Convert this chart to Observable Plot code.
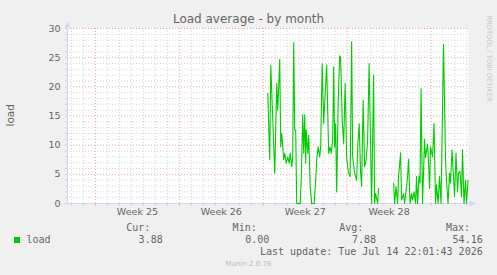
<!DOCTYPE html>
<html>
<head>
<meta charset="utf-8">
<script src="https://cdn.jsdelivr.net/npm/d3@7"></script>
<script src="https://cdn.jsdelivr.net/npm/@observablehq/plot@0.6"></script>
<style>
  html, body { margin: 0; padding: 0; background: #f0f0f0; }
  #wrap { position: relative; width: 497px; height: 275px; overflow: hidden; background: #f0f0f0; }
  #wrap svg { position: absolute; left: 0; top: 0; }
  .t { position: absolute; white-space: pre; color: #666; }
  .mono { font-family: "DejaVu Sans Mono", monospace; font-size: 10px; line-height: 10px; }
</style>
</head>
<body>
<div id="wrap"></div>
<script>
// ---- data (hours since Mon 15 Jun 2026 00:00) ----
const hours = [345, 349, 351, 359, 363, 365, 369, 371, 373, 377, 379, 382, 385, 388, 390, 393, 395, 397, 399, 401,
  403, 410, 412, 415, 417, 419, 421, 422, 425, 427, 430, 433, 438, 441, 443, 446, 449, 451, 454, 457,
  459, 463, 467, 470, 472, 475, 477, 479, 481, 483, 486, 489, 491, 494, 497, 500, 503, 505, 507, 510,
  513, 515, 519, 523, 525, 528, 531, 533, 536, 539, 542, 545, 548, 553, 557, 559, 561, 565, 567, 580,
  597, 599, 602, 605, 607, 611, 613, 617, 619, 623, 625, 627, 630, 633, 635, 638, 641, 643, 645, 648,
  650, 652, 655, 659, 661, 665, 667, 669, 671, 675, 678, 681, 683, 686, 689, 692, 697, 701, 703, 706,
  709, 711, 714, 717, 719, 722, 725, 727, 730, 733, 735, 738, 741, 743, 746];
const load = [18.9, 7.5, 23.7, 5.2, 20.6, 16, 24.7, 9.7, 12, 7.5, 8.6, 6.9, 8, 6.9, 8.6, 6.3, 8, 27.6, 12.6, 12.6,
  0, 0, 4, 15.2, 8.6, 15.2, 6.9, 12.6, 8.6, 11.7, 2.9, 0, 0, 4, 7.5, 9.7, 8, 9.7, 24, 13.7,
  17.2, 23.7, 8.6, 9.7, 8.6, 10.9, 23.4, 9.7, 13.7, 2.0, 17.2, 25.3, 25.1, 14.3, 10.3, 20.6, 8, 6.3, 5.2, 4.6,
  27.7, 8, 5.2, 4, 9.7, 13.7, 5.2, 2.9, 17.7, 6.3, 7.5, 10.9, 24, 0, 22, 0, 1.7, 0, 2.6, null,
  3.5, 0, 2.9, 0, 4.6, 8.7, 0.6, 1.7, 0, 2.9, 4.6, 7.6, 0, 1.7, 0.6, 2, 0, 4.6, 0, 4.7,
  3.5, 19.7, 0, 11, 7.9, 10.2, 6.9, 2.6, 9.7, 8, 13.7, 0, 3.2, 0, 4.6, 0, 27.3, 7.5, 4, 0,
  5.2, 3.5, 9.2, 4.6, 1.2, 8.6, 2, 5.2, 5.5, 1.2, 9.2, 0, 4, 0, 4];
const weekStarts = [0, 168, 336, 504, 672];
const weekMids = [84, 252, 420, 588];
const weekLabels = ["Week 25", "Week 26", "Week 27", "Week 28"];
const yTicks = [0, 5, 10, 15, 20, 25, 30];
const xDomain = [-56, 747];

const series = hours.map((h, i) => ({h, v: load[i]}));
const days = d3.range(-48, 747, 24).filter(d => !weekStarts.includes(d));
const yMinor = d3.range(1, 30).filter(d => d % 5 !== 0);
const yMajor = yTicks.filter(d => d > 0);

const plot = Plot.plot({
  width: 497,
  height: 275,
  marginLeft: 67,
  marginRight: 29,
  marginTop: 28,
  marginBottom: 72,
  style: {background: "transparent", fontFamily: "DejaVu Sans", fontSize: "9.5px", color: "#666", overflow: "visible"},
  x: {domain: xDomain, ticks: weekMids, tickFormat: d => weekLabels[weekMids.indexOf(d)], tickSize: 0, tickPadding: 5, label: null},
  y: {domain: [0, 30], ticks: yTicks, tickSize: 0, tickPadding: 7, label: null},
  marks: [
    Plot.frame({fill: "white", stroke: "none"}),
    Plot.ruleY(yMinor, {stroke: "#d4d4d4", strokeDasharray: "1,2"}),
    Plot.ruleX(days, {stroke: "#d4d4d4", strokeDasharray: "1,2"}),
    Plot.ruleY(yMajor, {stroke: "#efa6a6", strokeDasharray: "1,2"}),
    Plot.ruleX(weekStarts, {stroke: "#efa6a6", strokeDasharray: "1,2"}),
    Plot.ruleX(days, {y1: 0, y2: -0.45, stroke: "#d4d4d4"}),
    Plot.ruleX(weekStarts, {y1: 0, y2: -0.45, stroke: "#efa6a6"}),
    Plot.ruleY(d3.range(1, 31), {x1: xDomain[0], x2: xDomain[0] - 4, stroke: "#d4d4d4"}),
    Plot.ruleY([0], {x1: xDomain[0] - 6, x2: xDomain[1] + 2, stroke: "#cfd6f8"}),
    Plot.ruleX([xDomain[0]], {y1: -0.4, y2: 30.2, stroke: "#cfd6f8"}),
    Plot.line(series, {x: "h", y: "v", stroke: "#00cc00", strokeWidth: 1.1})
  ]
});

// axis arrows placed through the plot's scales
const sx = plot.scale("x"), sy = plot.scale("y");
const x0 = sx.apply(xDomain[0]) + 0.5, y0 = sy.apply(0) + 0.5;
const xEnd = sx.apply(xDomain[1]) + 0.5, yTop = sy.apply(30) + 0.5;
const svg = d3.select(plot);
svg.append("path")
  .attr("d", `M${x0 - 3},${yTop - 1}L${x0 + 3},${yTop - 1}L${x0},${yTop - 7}Z`)
  .attr("fill", "#cfd6f8");
svg.append("path")
  .attr("d", `M${xEnd + 1},${y0 - 3}L${xEnd + 1},${y0 + 3}L${xEnd + 7},${y0}Z`)
  .attr("fill", "#cfd6f8");

const wrap = document.getElementById("wrap");
wrap.appendChild(plot);

function addText(txt, css, cls) {
  const d = document.createElement("div");
  d.className = "t " + (cls || "");
  d.textContent = txt;
  Object.assign(d.style, css);
  wrap.appendChild(d);
  return d;
}
// title
addText("Load average - by month", {left: "0px", width: "497px", textAlign: "center", top: "13px",
  fontFamily: "DejaVu Sans", fontSize: "12px", lineHeight: "12px", color: "#666"});
// y label
addText("load", {left: "-10px", width: "40px", textAlign: "center", top: "109.5px",
  fontFamily: "DejaVu Sans", fontSize: "10.5px", lineHeight: "10.5px", transform: "rotate(-90deg)", color: "#666"});
// watermark
addText("RRDTOOL / TOBI OETIKER", {left: "438px", width: "100px", textAlign: "center", top: "54.5px",
  fontFamily: "DejaVu Sans", fontSize: "6.7px", lineHeight: "7px", transform: "rotate(90deg)", color: "#c4c4c4"});

// legend
const legendHeads = ["Cur:", "Min:", "Avg:", "Max:"];
const legendVals = ["3.88", "0.00", "7.88", "54.16"];
const headRight = [150.3, 256.7, 363.3, 470];
const valRight = [162.7, 269.3, 376, 482.7];
legendHeads.forEach((s, i) => addText(s, {right: (497 - headRight[i]) + "px", top: "223px"}, "mono"));
legendVals.forEach((s, i) => addText(s, {right: (497 - valRight[i]) + "px", top: "235px"}, "mono"));
const sw = document.createElement("div");
Object.assign(sw.style, {position: "absolute", left: "14px", top: "237px", width: "6px", height: "6px", background: "#00cc00"});
wrap.appendChild(sw);
addText("load", {left: "26.5px", top: "235px"}, "mono");
addText("Last update: Tue Jul 14 22:01:43 2026", {right: (497 - 482.7) + "px", top: "246.5px"}, "mono");
addText("Munin 2.0.76", {left: "0px", width: "497px", textAlign: "center", top: "260.5px",
  fontFamily: "DejaVu Sans", fontSize: "7px", lineHeight: "7px", color: "#bbb"});
</script>
</body>
</html>
